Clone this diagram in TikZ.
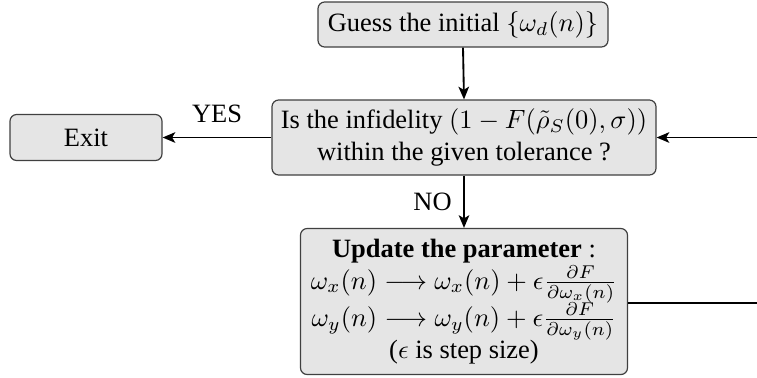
\documentclass[tikz,border=0pt]{standalone}
\usepackage{fontspec}
\setmainfont{Liberation Serif}
\usetikzlibrary{arrows.meta}
\newdimen\pxu
\pxu=0.378pt
\begin{document}
\begin{tikzpicture}[x=\pxu,y=-\pxu,
  box/.style={draw=black!75, fill=black!10, rounded corners=2.5pt, line width=0.45pt, align=center, inner sep=1pt},
  conn/.style={line width=0.7pt, -{Stealth[length=4.8pt,width=4pt,inset=1.2pt]}},
  plain/.style={line width=0.7pt}]
\useasboundingbox (0,0) rectangle (757,377);
\node[box, minimum width=290\pxu, minimum height=45\pxu] (guess) at (463,24.5) {Guess the initial $\{\omega_d(n)\}$};
\node[box, minimum width=384\pxu, minimum height=75\pxu] (check) at (464,137.5) {Is the infidelity $(1-F(\tilde\rho_S(0),\sigma))$\\ within the given tolerance ?};
\node[box, minimum width=152\pxu, minimum height=46\pxu] (exit) at (86,137.5) {Exit};
\node[box, minimum width=327\pxu, minimum height=146\pxu, text width=320\pxu, align=none] (update) at (464,301.5) {\centering\baselineskip=12.1pt\lineskiplimit=0pt\lineskip=0pt
\textbf{Update the parameter} :\\
$\omega_x(n)\longrightarrow\omega_x(n)+\epsilon\frac{\partial F}{\partial\omega_x(n)}$\\
$\omega_y(n)\longrightarrow\omega_y(n)+\epsilon\frac{\partial F}{\partial\omega_y(n)}$\\
($\epsilon$ is step size)\par};
\coordinate (rtop) at (760,137.5);
\coordinate (rbot) at (760,303);
\draw[conn] (guess.south) -- (check.north);
\draw[conn] (check.west |- exit.east) -- node[above, yshift=2pt] {YES} (exit.east);
\draw[conn] (rtop) -- (check.east |- rtop);
\draw[conn] (check.south) -- node[left, xshift=-1pt] {NO} (update.north);
\draw[plain] (update.east |- rbot) -- (rbot);
\end{tikzpicture}
\end{document}
